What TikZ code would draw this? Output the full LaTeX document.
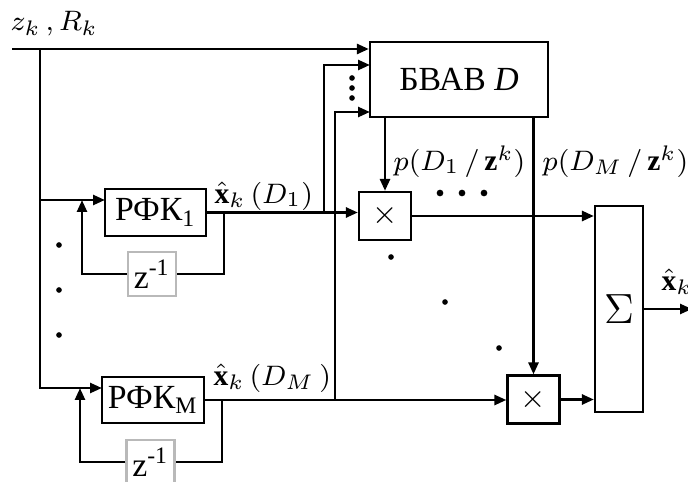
\documentclass[tikz,border=0pt]{standalone}
\usepackage{fontspec}
\setmainfont{Liberation Serif}
\usetikzlibrary{positioning, arrows.meta}

\begin{document}
\begin{tikzpicture}[
  x=0.01cm, y=-0.01cm,
  blk/.style={
    draw,
    line width=0.6pt,
    inner sep=0pt,
    font=\fontsize{9.6}{11}\selectfont
  },
  delay/.style={
    blk,
    draw=gray!55,
    minimum width=0.48cm,
    minimum height=0.44cm
  },
  mult/.style={
    blk,
    minimum width=0.52cm,
    minimum height=0.48cm,
    font=\fontsize{9}{10}\selectfont
  },
  wire/.style={line width=0.8pt},
  arr/.style={wire, -{Triangle[length=3.4pt,width=2.8pt]}},
  lbl/.style={inner sep=0pt, font=\fontsize{8.4}{10}\selectfont}
]
\useasboundingbox (0,0) rectangle (688,482);
\clip (0,0) rectangle (688,482);

% blocks
\node[blk, minimum width=1.78cm, minimum height=0.75cm] (bvav) at (459,79.5) {БВАВ \textit{D}};
\node[blk, minimum width=1.01cm, minimum height=0.47cm] (rfk1) at (155.5,212.5) {РФК\textsubscript{1}};
\node[blk, minimum width=1.02cm, minimum height=0.46cm] (rfkM) at (153,400) {РФК\textsubscript{M}};
\node[delay] (zinv1) at (152,274) {z\textsuperscript{-1}};
\node[delay] (zinvM) at (150.5,462) {z\textsuperscript{-1}};
\node[mult] (mul1) at (385,216) {$\times$};
\node[mult] (mulM) at (533.5,399.5) {$\times$};
\node[blk, minimum width=0.48cm, minimum height=2.06cm, font=\fontsize{13}{14}\selectfont] (sum) at (619,309) {$\Sigma$};

% labels
\node[lbl, anchor=base west] (lzr) at (10,31) {$z_k\,,R_k$};
\node[lbl, anchor=base west] (lx1) at (214,203) {$\hat{\mathbf{x}}_k\,(D_1)$};
\node[lbl, anchor=base west] (lxM) at (213,385) {$\hat{\mathbf{x}}_k\,(D_M\,)$};
\node[lbl, anchor=base west] (lp1) at (393,170) {$p(D_1\,/\,\mathbf{z}^k)$};
\node[lbl, anchor=base west] (lpM) at (542,170) {$p(D_M\,/\,\mathbf{z}^k)$};
\node[lbl, anchor=base west] (lxo) at (661,290) {$\hat{\mathbf{x}}_k$};

% junctions
\coordinate (in) at (12,49);
\coordinate (bus) at (40,49);
\coordinate (in1) at (105,200);
\coordinate (inM) at (102,388);
\coordinate (fb1) at (224,212.5);
\coordinate (fb1in) at (82,200);
\coordinate (fbM) at (222,400);
\coordinate (fbMin) at (80,388);
\coordinate (tap1) at (324,212.5);
\coordinate (tapM) at (335,400);
\coordinate (d1) at (370,65);
\coordinate (dM) at (370,112);
\coordinate (out) at (692,308);

% connectors
\draw[arr] (in) -- (in -| bvav.west);
\draw[arr] (bus) |- (inM);
\draw[arr] (bus |- in1) -- (in1);
\draw[arr] (rfk1.east) -- (rfk1.east -| mul1.west);
\draw[wire] (fb1) |- (zinv1.east);
\draw[arr] (zinv1.west) -| (fb1in);
\draw[arr] (rfkM.east) -- (rfkM.east -| mulM.west);
\draw[wire] (fbM) |- (zinvM.east);
\draw[arr] (zinvM.west) -| (fbMin);
\draw[arr] (tap1) |- (d1);
\draw[arr] (tapM) |- (dM);
\draw[arr] (bvav.south -| mul1.north) -- (mul1.north);
\draw[arr] (bvav.south -| mulM.north) -- (mulM.north);
\draw[arr] (mul1.east) -- (mul1.east -| sum.west);
\draw[arr] (mulM.east) -- (mulM.east -| sum.west);
\draw[arr] (sum.east) -- (sum.east -| out);

% dots
\foreach \y in {78,88,98} \fill (352,\y) circle (0.8pt);
\foreach \y in {245,290,335} \fill (59,\y) circle (0.8pt);
\foreach \x in {440,462,484} \fill (\x,193) circle (0.95pt);
\foreach \x/\y in {391/257,445/302,499/348} \fill (\x,\y) circle (0.8pt);
\end{tikzpicture}
\end{document}
